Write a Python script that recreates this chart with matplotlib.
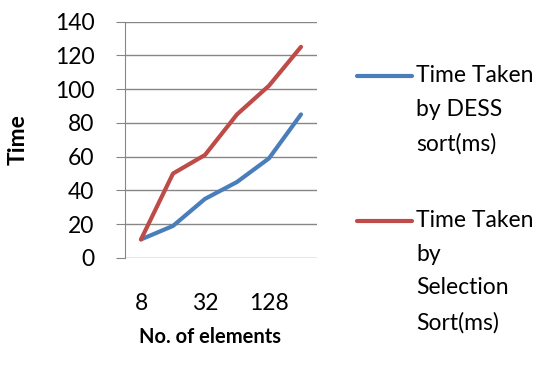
import matplotlib.pyplot as plt
from matplotlib.lines import Line2D

plt.rcParams['font.family'] = ['Lato', 'DejaVu Sans']

sizes = ['8', '16', '32', '64', '128', '256']
dess = [11, 19, 35, 45, 59, 85]
selection = [11, 50, 61, 85, 102, 125]
labels = ['Time Taken\nby DESS\nsort(ms)', 'Time Taken\nby\nSelection\nSort(ms)']
colors = ['#4A7EBB', '#BE4B48']
fs = 16.5

fig = plt.figure(figsize=(5.5, 3.74), dpi=100)
ax = fig.add_axes([125 / 550, 1 - 258 / 374, 192 / 550, 236.5 / 374])

x = range(len(sizes))
ax.plot(x, dess, color=colors[0], lw=3, solid_capstyle='round')
ax.plot(x, selection, color=colors[1], lw=3, solid_capstyle='round')

ax.set_xlim(-0.5, len(sizes) - 0.5)
ax.set_ylim(0, 140)
ax.set_yticks(range(0, 141, 20))
ax.set_xticks(x)
ax.set_xticklabels([s if i % 2 == 0 else '' for i, s in enumerate(sizes)])
ax.grid(axis='y', color='#868686', lw=1)
ax.set_axisbelow(True)
for s in ['top', 'right', 'bottom']:
    ax.spines[s].set_visible(False)
ax.spines['left'].set_color('#868686')
ax.tick_params(axis='y', length=6.5, color='#868686', labelsize=fs, pad=15.5)
ax.tick_params(axis='x', length=0, labelsize=fs, pad=25)

fig.text(18 / 550, 1 - 140 / 374, 'Time', rotation=90, fontsize=fs,
         fontweight='bold', ha='center', va='center')
fig.text(210 / 550, 1 - 337 / 374, 'No. of elements', fontsize=14.5,
         fontweight='bold', ha='center', va='center')

# legend drawn by hand so the line sits at the first text row
for lab, col, yy in zip(labels, colors, [76, 221]):
    fig.add_artist(Line2D([357 / 550, 412 / 550], [1 - yy / 374] * 2,
                          color=col, lw=3, solid_capstyle='round',
                          transform=fig.transFigure))
    fig.text(416 / 550, 1 - (yy - 11) / 374, lab, fontsize=fs, va='top',
             ha='left', linespacing=1.75)

fig.savefig('out.png', dpi=100)
